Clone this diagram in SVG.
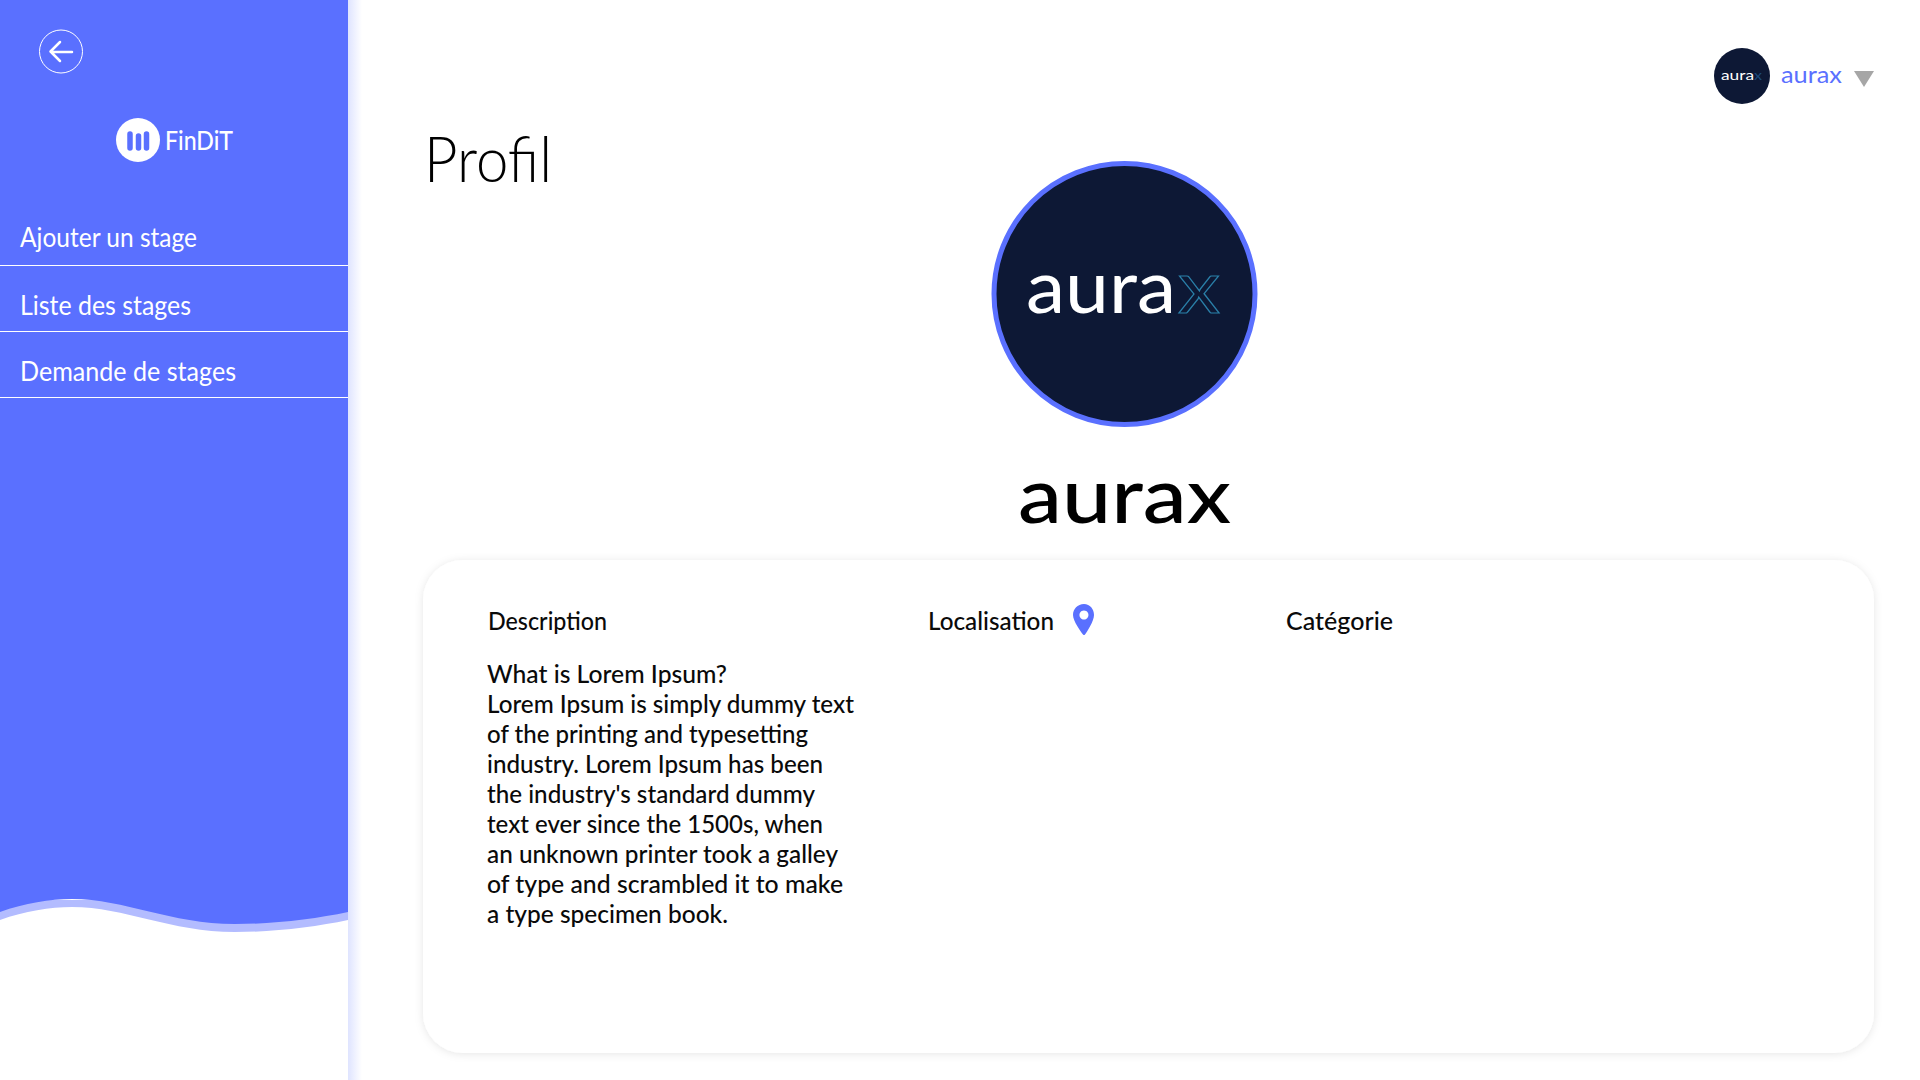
<svg xmlns="http://www.w3.org/2000/svg" width="1920" height="1080" viewBox="0 0 1920 1080">
<style>
text{font-family:"Lato","Noto Sans","Liberation Sans",sans-serif}
.menu{font-size:27px;fill:#fff;font-weight:400}
.head{font-size:25px;fill:#0a0a0a;font-weight:500}
.body{font-size:25px;fill:#0a0a0a;font-weight:500}
.rule{stroke:#fff;stroke-width:1}
</style>
<defs>
<linearGradient id="edge" x1="0" x2="1" y1="0" y2="0"><stop offset="0" stop-color="#dfe4ff"/><stop offset="1" stop-color="#fff"/></linearGradient>
<filter id="soft" x="-5%" y="-5%" width="110%" height="112%"><feDropShadow dx="0" dy="1" stdDeviation="4" flood-color="#000" flood-opacity="0.10"/></filter>
</defs>
<rect width="1920" height="1080" fill="#fff"/>
<g id="sidebar">
<rect x="348" y="0" width="14" height="1080" fill="url(#edge)"/>
<path d="M0 920C25 911 50 907 72 907C125 907 170 932 235 932C275 932 315 927 348 920V900H0Z" fill="#b3bcff"/>
<path d="M0 912C25 903 50 899 72 899C125 899 170 924 235 924C275 924 315 919 348 912V0H0Z" fill="#5a70ff"/>
</g>
<g id="back">
<circle cx="61" cy="51.500" r="21.500" fill="none" stroke="#fff" stroke-width="1"/>
<path d="M72 52H51M60 42L50.500 51.500L60 61" fill="none" stroke="#fff" stroke-width="2.500" stroke-linecap="round" stroke-linejoin="round"/>
</g>
<g id="logo">
<circle cx="138" cy="140" r="22" fill="#fff"/>
<g stroke="#5a70ff" stroke-width="5.500" stroke-linecap="round"><path d="M130 134V148M138.500 136V148M146.500 134V148"/></g>
<text x="165" y="150" font-size="26" fill="#fff" font-weight="500" textLength="68" lengthAdjust="spacingAndGlyphs">FinDiT</text>
</g>
<g id="menu-ajouter"><text class="menu" x="20" y="247" textLength="177" lengthAdjust="spacingAndGlyphs">Ajouter un stage</text><line class="rule" x1="0" x2="348" y1="265.500" y2="265.500"/></g>
<g id="menu-liste"><text class="menu" x="20" y="315" textLength="171" lengthAdjust="spacingAndGlyphs">Liste des stages</text><line class="rule" x1="0" x2="348" y1="331.500" y2="331.500"/></g>
<g id="menu-demande"><text class="menu" x="20" y="381" textLength="216" lengthAdjust="spacingAndGlyphs">Demande de stages</text><line class="rule" x1="0" x2="348" y1="397.500" y2="397.500"/></g>
<g id="user">
<circle cx="1742" cy="76" r="28" fill="#0d1835"/>
<text x="1721" y="80" font-size="14" font-weight="400" fill="#fff" textLength="33" lengthAdjust="spacingAndGlyphs">aura</text>
<text x="1754" y="80" font-size="14" fill="#1c4a7c" textLength="8" lengthAdjust="spacingAndGlyphs">x</text>
<text x="1781" y="83" font-size="24" fill="#5a70ff" textLength="61" lengthAdjust="spacingAndGlyphs">aurax</text>
<path d="M1854 71H1874L1864 87Z" fill="#a6a6a6"/>
</g>
<g id="title"><text x="424" y="182" font-size="64" font-weight="300" fill="#000" textLength="128" lengthAdjust="spacingAndGlyphs">Profil</text></g>
<g id="avatar">
<circle cx="1124.500" cy="294" r="130.500" fill="#0d1835" stroke="#5a70ff" stroke-width="5"/>
<text x="1026" y="313" font-size="73" font-weight="400" fill="#fff" textLength="150" lengthAdjust="spacingAndGlyphs">aura</text>
<text x="1178" y="313" font-size="73" font-weight="400" fill="#0d1835" stroke="#2a7fa8" stroke-width="1.200" textLength="42" lengthAdjust="spacingAndGlyphs">x</text>
</g>
<g id="name"><text x="1018" y="523" font-size="78" font-weight="500" fill="#000" textLength="213" lengthAdjust="spacingAndGlyphs">aurax</text></g>
<g id="card">
<rect x="423" y="560" width="1451" height="493" rx="40" fill="#fff" filter="url(#soft)"/>
<text class="head" x="488" y="630" textLength="119" lengthAdjust="spacingAndGlyphs">Description</text>
<text class="head" x="928" y="630" textLength="126" lengthAdjust="spacingAndGlyphs">Localisation</text>
<path fill-rule="evenodd" d="M1084 604C1077.500 604 1073 609 1073 615C1073 621 1081 632 1083 634.500Q1084 635.500 1085 634.500C1087 632 1094 621 1094 615C1094 609 1090 604 1084 604ZM1084 610.500A4.500 4.500 0 1 1 1083.900 610.500Z" fill="#5a70ff"/>
<text class="head" x="1286" y="630" textLength="107" lengthAdjust="spacingAndGlyphs">Catégorie</text>
<g>
<text class="body" x="487" y="683" textLength="240" lengthAdjust="spacingAndGlyphs">What is Lorem Ipsum?</text>
<text class="body" x="487" y="713" textLength="367" lengthAdjust="spacingAndGlyphs">Lorem Ipsum is simply dummy text</text>
<text class="body" x="487" y="743" textLength="321" lengthAdjust="spacingAndGlyphs">of the printing and typesetting</text>
<text class="body" x="487" y="773" textLength="336" lengthAdjust="spacingAndGlyphs">industry. Lorem Ipsum has been</text>
<text class="body" x="487" y="803" textLength="328" lengthAdjust="spacingAndGlyphs">the industry's standard dummy</text>
<text class="body" x="487" y="833" textLength="336" lengthAdjust="spacingAndGlyphs">text ever since the 1500s, when</text>
<text class="body" x="487" y="863" textLength="351" lengthAdjust="spacingAndGlyphs">an unknown printer took a galley</text>
<text class="body" x="487" y="893" textLength="356" lengthAdjust="spacingAndGlyphs">of type and scrambled it to make</text>
<text class="body" x="487" y="923" textLength="241" lengthAdjust="spacingAndGlyphs">a type specimen book.</text>
</g>
</g>
</svg>
